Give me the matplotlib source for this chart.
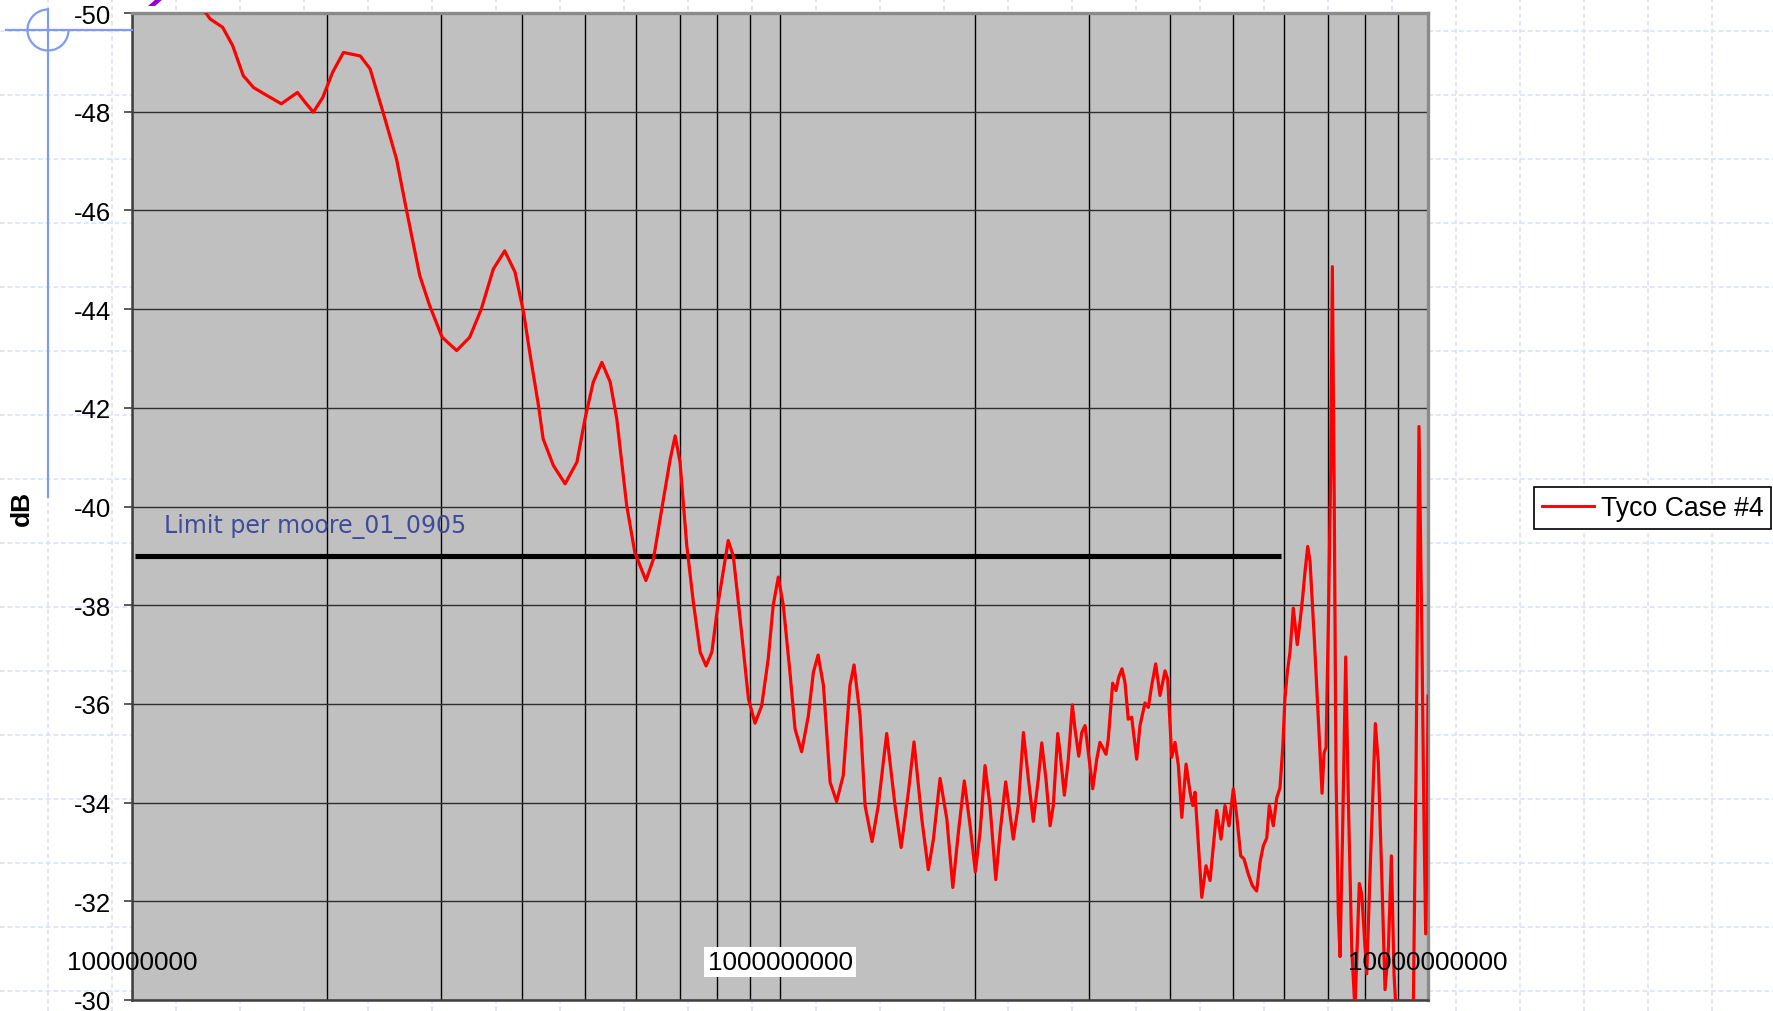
import numpy as np
import matplotlib.pyplot as plt
from matplotlib.lines import Line2D
from matplotlib.patches import Arc, Polygon
from matplotlib.ticker import LogLocator, NullFormatter
import matplotlib.transforms as mtransforms

plt.rcParams['axes.unicode_minus'] = False

# ---------------------------
# Data
# ---------------------------
freq_mhz = [125, 130, 132, 138, 143, 148.5, 154, 160, 170, 180,
            185, 190.5, 197, 204, 212, 225, 233, 244, 256, 265,
            278, 288, 301, 317, 332, 346, 361, 376, 390, 402,
            411, 424, 431, 447, 466, 486, 500, 515, 531, 547,
            560, 580, 597, 621, 638, 657, 677, 689, 701, 718,
            735, 753, 769, 785, 803, 832, 847, 868, 894, 915,
            937, 959, 976, 994, 1012, 1036, 1055, 1080, 1106, 1126,
            1145, 1167, 1195, 1223, 1252, 1282, 1301, 1329, 1353, 1387,
            1418, 1461, 1505, 1538, 1578, 1610, 1655, 1694, 1725, 1766,
            1809, 1848, 1885, 1925, 1965, 2002, 2036, 2072, 2109, 2153,
            2186, 2230, 2291, 2332, 2375, 2417, 2460, 2504, 2535, 2573,
            2611, 2641, 2683, 2705, 2747, 2786, 2826, 2853, 2891, 2922,
            2956, 2991, 3038, 3082, 3117, 3185, 3211, 3261, 3300, 3332,
            3371, 3407, 3447, 3489, 3552, 3594, 3658, 3702, 3746, 3800,
            3859, 3928, 3966, 4023, 4070, 4119, 4169, 4233, 4294, 4335,
            4370, 4476, 4544, 4610, 4720, 4793, 4861, 4931, 5007, 5068,
            5140, 5200, 5281, 5357, 5440, 5505, 5569, 5638, 5690, 5772,
            5841, 5910, 5968, 6016, 6066, 6124, 6196, 6285, 6346, 6407,
            6460, 6522, 6576, 6671, 6734, 6814, 6863, 6912, 6961, 7018,
            7078, 7119, 7161, 7212, 7272, 7316, 7387, 7465, 7534, 7627,
            7715, 7834, 7902, 8043, 8159, 8294, 8382, 8483, 8584, 8686,
            8780, 8863, 8926, 9151, 9491, 9583, 9627, 9685, 9779, 9859,
            9918, 9975, 10000]

tyco_db = [-50.28, -50.0, -49.88, -49.71, -49.34, -48.73, -48.49, -48.36, -48.16, -48.39,
           -48.19, -47.99, -48.29, -48.80, -49.20, -49.13, -48.87, -47.99, -47.04, -46.03,
           -44.68, -44.07, -43.43, -43.16, -43.43, -44.0, -44.81, -45.18, -44.75, -43.94,
           -43.12, -42.04, -41.37, -40.83, -40.46, -40.90, -41.77, -42.52, -42.92, -42.52,
           -41.77, -40.02, -39.07, -38.50, -38.94, -39.95, -40.96, -41.43, -40.90, -39.21,
           -38.06, -37.05, -36.77, -37.05, -38.06, -39.31, -39.0, -37.72, -36.10, -35.61,
           -35.96, -36.91, -37.99, -38.57, -37.99, -36.64, -35.49, -35.03, -35.76, -36.64,
           -36.99, -36.37, -34.41, -34.02, -34.55, -36.37, -36.79, -35.76, -33.94, -33.21,
           -33.94, -35.40, -33.94, -33.09, -34.21, -35.23, -33.67, -32.64, -33.26, -34.49,
           -33.67, -32.28, -33.40, -34.44, -33.53, -32.60, -33.40, -34.75, -33.94, -32.44,
           -33.40, -34.42, -33.26, -33.94, -35.42, -34.48, -33.62, -34.48, -35.21, -34.48,
           -33.53, -33.94, -35.40, -35.02, -34.15, -34.88, -35.98, -35.49, -34.94, -35.42,
           -35.56, -35.02, -34.28, -34.88, -35.22, -34.98, -35.29, -36.42, -36.27, -36.54,
           -36.71, -36.44, -35.69, -35.73, -34.88, -35.56, -36.02, -35.93, -36.37, -36.81,
           -36.17, -36.67, -36.50, -34.92, -35.22, -34.75, -33.70, -34.78, -34.21, -33.94,
           -34.21, -32.08, -32.72, -32.42, -33.84, -33.26, -33.94, -33.53, -34.28, -33.73,
           -32.92, -32.86, -32.55, -32.32, -32.21, -32.79, -33.12, -33.28, -33.94, -33.53,
           -34.09, -34.30, -35.11, -36.13, -36.64, -37.05, -37.94, -37.20, -37.66, -38.17,
           -38.68, -39.19, -38.89, -37.41, -36.34, -35.01, -34.19, -35.01, -35.11, -37.66,
           -40.72, -44.86, -40.72, -34.60, -31.74, -30.88, -33.58, -36.95, -34.09, -31.03,
           -29.8, -32.36, -32.15, -30.53, -32.97, -35.60, -34.81, -32.56, -30.21, -31.03,
           -32.92, -30.53, -29.8, -29.8, -29.8, -34.60, -37.66, -41.62, -37.66, -33.59,
           -31.34, -33.59, -36.16]

limit_freq_hz = [1.01e8, 5.93e9]
limit_db = [-39, -39]
limit_label = "Limit per moore_01_0905"
series_label = "Tyco Case #4"

x_ticks = [1e8, 1e9, 1e10]
x_tick_labels = ["100000000", "1000000000", "10000000000"]
y_ticks = [-50, -48, -46, -44, -42, -40, -38, -36, -34, -32, -30]

# ---------------------------
# Figure (slide background)
# ---------------------------
W, H = 1773, 1012
fig = plt.figure(figsize=(W / 100, H / 100), dpi=100, facecolor='white')


def fx(px):
    return px / W


def fy(py):
    return 1 - py / H


# light dashed slide grid
for gx in np.arange(48, W, 64):
    fig.add_artist(Line2D([fx(gx), fx(gx)], [0, 1], color='#d8e0f8', lw=1.1,
                          ls=(0, (3, 2)), zorder=-5))
for gy in np.arange(32, H, 64):
    fig.add_artist(Line2D([0, 1], [fy(gy), fy(gy)], color='#d8e0f8', lw=1.1,
                          ls=(0, (3, 2)), zorder=-5))

# blue crosshair in the corner
blue = '#7f9bf2'
fig.add_artist(Line2D([fx(6), fx(132)], [fy(31), fy(31)], color=blue, lw=1.6, zorder=1))
fig.add_artist(Line2D([fx(48), fx(48)], [fy(10), fy(498)], color=blue, lw=1.6, zorder=1))
fig.add_artist(Arc((48, H - 31), 41, 41, theta1=90, theta2=360, transform=None,
                   color=blue, lw=1.6, zorder=1))
# bit of the purple title letter cut off at the top
fig.add_artist(Polygon([(fx(148), fy(7)), (fx(155), fy(7)), (fx(163), fy(0)), (fx(156), fy(0))],
                       closed=True, color='#9900cc', lw=0, zorder=1))

# ---------------------------
# Plot area
# ---------------------------
ax = fig.add_axes([fx(132), fy(1001), fx(1428) - fx(132), fy(14) - fy(1001)])
ax.set_facecolor('#c0c0c0')

freq_hz = np.array(freq_mhz) * 1e6
ax.plot(freq_hz, tyco_db, color='red', lw=2.3, zorder=4, label=series_label,
        solid_joinstyle='round')
ax.plot(limit_freq_hz, limit_db, color='black', lw=3.7, zorder=3, solid_capstyle='butt')

ax.set_xscale('log')
ax.set_xlim(1e8, 1e10)
ax.set_ylim(-30, -50)

ax.xaxis.set_minor_locator(LogLocator(base=10, subs=np.arange(2, 10)))
ax.xaxis.set_minor_formatter(NullFormatter())
ax.set_xticks(x_ticks)
ax.set_xticklabels([])
ax.tick_params(axis='x', which='both', length=0)
ax.grid(True, axis='x', which='both', color='black', lw=1.0)

ax.set_yticks(y_ticks)
ax.set_yticklabels([str(v) for v in y_ticks], fontsize=18.5, family='Liberation Sans')
ax.tick_params(axis='y', length=6, width=1.2, color='#404040', pad=9)
ax.grid(True, axis='y', which='major', color='#2e2e2e', lw=1.0)

for side in ['top', 'right']:
    ax.spines[side].set_color('#8a8a8a')
    ax.spines[side].set_linewidth(2.4)
for side in ['left', 'bottom']:
    ax.spines[side].set_color('#404040')
    ax.spines[side].set_linewidth(1.8)

# x labels sit inside the plot near the bottom
trans = mtransforms.blended_transform_factory(ax.transData, ax.transAxes)
for xv, lab in zip(x_ticks, x_tick_labels):
    t = ax.text(xv, (1001 - 963) / 987, lab, transform=trans, ha='center', va='center',
                fontsize=18.7, family='Liberation Sans', zorder=6, clip_on=False)
    if xv == 1e9:
        t.set_bbox(dict(facecolor='white', edgecolor='none', pad=2.5))

ax.text(1.12e8, -39.48, limit_label, color='#3f4b9b', fontsize=17,
        family='DejaVu Sans', va='baseline', ha='left', zorder=5)

fig.text(fx(22), fy(508), 'dB', rotation=90, fontsize=19, fontweight='bold',
         family='Liberation Sans', ha='center', va='center')

leg = fig.legend(handles=[Line2D([], [], color='red', lw=2.1)], labels=[series_label],
                 loc='upper left', bbox_to_anchor=(fx(1534), fy(488)), borderaxespad=0,
                 fancybox=False, edgecolor='black', framealpha=1,
                 prop={'family': 'Liberation Sans', 'size': 19.2},
                 handlelength=1.95, handletextpad=0.25, borderpad=0.3)
leg.get_frame().set_linewidth(1.2)

fig.savefig('out.png', dpi=100, facecolor='white')
